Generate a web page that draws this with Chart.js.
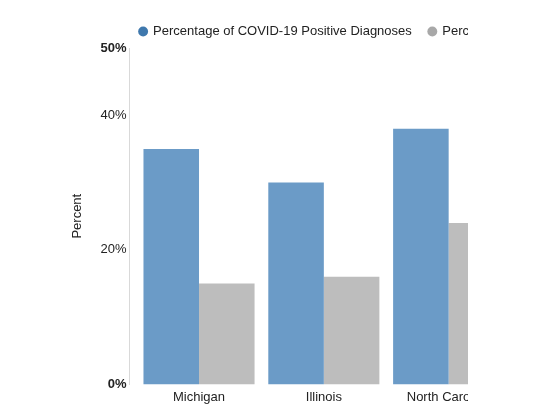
<!DOCTYPE html>
<html lang="en">
<head>
<meta charset="UTF-8">
<title>COVID-19 Positive Diagnoses by State</title>
<style>
    * {
        margin: 0;
        padding: 0;
        box-sizing: border-box;
    }

    body {
        background: #ffffff;
        width: 552px;
        height: 413px;
        overflow: hidden;
    }

    /* the source picture is cut off on the right */
    .chart-wrap {
        position: relative;
        width: 468px;
        height: 413px;
        overflow: hidden;
    }

    .chart-box {
        width: 560px;
        height: 413px;
    }
</style>
</head>
<body>
<div class="chart-wrap">
    <div class="chart-box">
        <canvas id="covidChart"></canvas>
    </div>
</div>

<script src="https://cdn.jsdelivr.net/npm/chart.js"></script>
<script>
    const states = ['Michigan', 'Illinois', 'North Carolina'];
    const positiveDiagnoses = [35, 30, 38];
    const populationShare = [15, 16, 24];
    const yTicks = [0, 20, 40, 50];

    const barColors = ['#6b9bc7', '#bdbdbd'];
    const legendColors = ['#3f78ad', '#a8a8a8'];

    Chart.defaults.font.family = '"Liberation Sans", Arial, Helvetica, sans-serif';
    Chart.defaults.font.size = 13;
    Chart.defaults.color = '#222222';

    // slide the legend so it starts at the plot's left edge (kept on one line)
    const legendToPlot = {
        id: 'legendToPlot',
        afterLayout(chart) {
            const legend = chart.legend;
            if (!legend) return;
            const dx = chart.chartArea.left - 7 - legend.left;
            legend.left += dx;
            legend.right += dx;
        }
    };

    const ctx = document.getElementById('covidChart').getContext('2d');
    const covidChart = new Chart(ctx, {
        type: 'bar',
        data: {
            datasets: [
                {
                    label: 'Percentage of COVID-19 Positive Diagnoses',
                    data: positiveDiagnoses.map((v, i) => ({ x: i, y: v })),
                    backgroundColor: barColors[0]
                },
                {
                    label: 'Percentage of Population',
                    data: populationShare.map((v, i) => ({ x: i, y: v })),
                    backgroundColor: barColors[1]
                }
            ]
        },
        plugins: [legendToPlot],
        options: {
            responsive: true,
            maintainAspectRatio: false,
            animation: false,
            layout: {
                padding: { left: 70, top: 8, right: 2, bottom: 3 }
            },
            datasets: {
                bar: { categoryPercentage: 0.89, barPercentage: 1 }
            },
            plugins: {
                tooltip: { enabled: false },
                legend: {
                    position: 'top',
                    align: 'start',
                    labels: {
                        usePointStyle: true,
                        pointStyle: 'circle',
                        boxWidth: 7,
                        boxHeight: 7,
                        padding: 17,
                        color: '#222222',
                        font: { size: 13 },
                        generateLabels: chart => Chart.defaults.plugins.legend.labels.generateLabels(chart)
                            .map((item, i) => ({ ...item, fillStyle: legendColors[i], strokeStyle: legendColors[i] }))
                    }
                }
            },
            scales: {
                x: {
                    type: 'linear',
                    offset: false,
                    min: -0.556,
                    max: 2.876,
                    grid: { display: false, drawTicks: false, offset: false },
                    border: { display: false },
                    afterBuildTicks: scale => {
                        scale.ticks = states.map((s, i) => ({ value: i }));
                    },
                    ticks: {
                        padding: 5,
                        autoSkip: false,
                        maxRotation: 0,
                        callback: value => states[value]
                    }
                },
                y: {
                    min: 0,
                    max: 50,
                    afterBuildTicks: scale => {
                        scale.ticks = yTicks.map(v => ({ value: v }));
                    },
                    grid: { display: false, drawTicks: false },
                    border: { color: '#d9d9d9', width: 1 },
                    ticks: {
                        padding: 3,
                        callback: value => value + '%',
                        font: c => ({
                            size: 13,
                            weight: (c.tick && (c.tick.value === 0 || c.tick.value === 50)) ? 'bold' : 'normal'
                        })
                    },
                    title: {
                        display: true,
                        text: 'Percent',
                        padding: { top: 0, bottom: 12 },
                        font: { size: 13 }
                    }
                }
            }
        }
    });
</script>
</body>
</html>
